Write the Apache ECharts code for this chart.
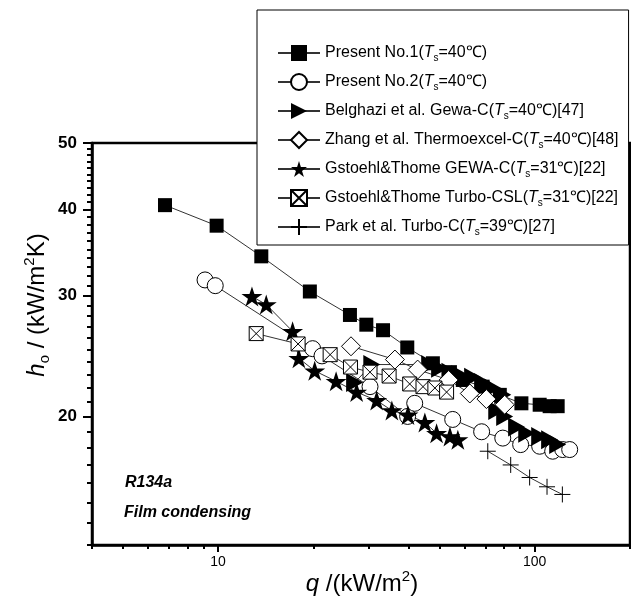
<!DOCTYPE html>
<html>
<head>
<meta charset="utf-8">
<script src="https://cdn.jsdelivr.net/npm/echarts@6.0.0/dist/echarts.min.js"></script>
<style>
  html, body { margin: 0; padding: 0; background: #fff; }
  #chart { width: 631px; height: 603px; }
</style>
</head>
<body>
<div id="chart"></div>
<script>
// q (kW/m2), ho (kW/m2K)
var presentNo1 = [[6.8, 40.6], [9.9, 37.9], [13.7, 34.2], [19.5, 30.4], [26.1, 28.1], [29.4, 27.2], [33.2, 26.7], [39.6, 25.2], [47.7, 23.9], [54, 23.2], [59.3, 22.6], [68.5, 22.1], [77.6, 21.5], [90.8, 20.9], [103.7, 20.8], [111.5, 20.7], [118.2, 20.7]]
var presentNo2 = [[9.1, 31.6], [9.8, 31.0], [19.9, 25.1], [21.3, 24.5], [30.2, 22.1], [39.7, 20.0], [41.8, 20.9], [55.1, 19.8], [68.0, 19.0], [79.3, 18.6], [90.3, 18.2], [103.7, 18.1], [114, 17.8], [122.6, 17.9], [129, 17.9]]
var belghazi = [[27.0, 22.4], [30.6, 23.8], [46.6, 23.8], [50.1, 23.5], [54.0, 23.2], [58.0, 23.0], [63.7, 22.8], [68.5, 22.4], [73.7, 22.0], [79.3, 21.5], [75.9, 20.4], [80.4, 20.0], [87.7, 19.3], [94.4, 18.9], [103.7, 18.7], [111.5, 18.5], [118.2, 18.2]]
var zhang = [[26.3, 25.3], [36.2, 24.2], [42.7, 23.4], [53.5, 22.6], [62.4, 21.6], [70.4, 21.2], [80.4, 20.8]]
var gstoehlGewa = [[12.8, 29.9], [14.2, 29.1], [17.2, 26.6], [18.0, 24.3], [20.2, 23.3], [23.6, 22.5], [27.4, 21.7], [31.7, 21.1], [35.4, 20.4], [39.8, 20.1], [45.0, 19.6], [49.0, 18.9], [54.0, 18.7], [57.2, 18.5]]
var gstoehlTurbo = [[13.2, 26.4], [17.9, 25.5], [22.6, 24.6], [26.2, 23.6], [30.2, 23.2], [34.7, 22.9], [40.3, 22.3], [44.4, 22.1], [48.4, 22.0], [52.7, 21.7]]
var park = [[71.1, 17.8], [84.0, 17.0], [96.4, 16.3], [109.4, 15.8], [122.3, 15.4]]

var seriesNames = ['Present No.1', 'Present No.2', 'Belghazi et al. Gewa-C', 'Zhang et al. Thermoexcel-C', 'Gstoehl&Thome GEWA-C', 'Gstoehl&Thome Turbo-CSL', 'Park et al. Turbo-C']
var seriesTemps = ['40', '40', '40', '40', '31', '31', '39']
var seriesRefs = ['', '', '[47]', '[48]', '[22]', '[22]', '[27]']

var qMajorTicks = [10, 100]
var qMinorTicks = [4, 5, 6, 7, 8, 9, 20, 30, 40, 50, 60, 70, 80, 90, 200]
var hMajorTicks = [20, 30, 40, 50]
var hMinorTicks = [13, 14, 15, 16, 17, 18, 19, 21, 22, 23, 24, 25, 26, 27, 28, 29, 31, 32, 33, 34, 35, 36, 37, 38, 39, 41, 42, 43, 44, 45, 46, 47, 48, 49]

var FONT = '"Liberation Sans", Arial, sans-serif'

// marker shapes
var TRI_RIGHT = 'path://M0,0L10,5L0,10Z'
var STAR = 'path://M50,0L61.2,34.6L97.6,34.5L68.1,55.9L79.4,90.5L50,69L20.6,90.5L31.9,55.9L2.4,34.5L38.8,34.6Z'
var BOX_X = 'path://M0,0L10,0L10,10L0,10Z M0,0L10,10 M10,0L0,10'
var PLUS = 'path://M5,0L5,10 M0,5L10,5'

function lineSeries(idx, data, symbol, size, fill, border) {
  return {
    name: seriesNames[idx],
    type: 'line',
    xAxisIndex: 0,
    yAxisIndex: 0,
    data: data,
    symbol: symbol,
    symbolSize: size,
    lineStyle: { color: '#333', width: 1 },
    itemStyle: { color: fill, borderColor: '#000', borderWidth: border },
    emphasis: { disabled: true },
    z: 3
  }
}

var chart = echarts.init(document.getElementById('chart'))

var titleRich = {
  i: { fontStyle: 'italic', fontSize: 24, fontFamily: FONT, lineHeight: 30, fill: '#000' },
  n: { fontSize: 24, fontFamily: FONT, lineHeight: 30, fill: '#000' },
  sub: { fontSize: 15, fontFamily: FONT, lineHeight: 14, verticalAlign: 'bottom', fill: '#000' },
  sup: { fontSize: 15, fontFamily: FONT, lineHeight: 14, verticalAlign: 'top', fill: '#000' }
}

var option = {
  animation: false,
  backgroundColor: '#fff',
  grid: {
    left: 92,
    right: 1,
    top: 143,
    bottom: 58,
    show: true,
    borderColor: '#000',
    borderWidth: 2.5
  },
  legend: {
    orient: 'vertical',
    left: 257,
    top: 10,
    padding: [33, 10, 8, 20],
    itemWidth: 42,
    itemHeight: 20,
    itemGap: 9,
    backgroundColor: '#fff',
    borderColor: '#000',
    borderWidth: 1,
    borderRadius: 0,
    selectedMode: false,
    z: 10,
    data: seriesNames,
    formatter: function (name) {
      var i = seriesNames.indexOf(name)
      return name + '({it|T}{sub|s}=' + seriesTemps[i] + '℃)' + seriesRefs[i]
    },
    textStyle: {
      fontFamily: FONT,
      fontSize: 16,
      color: '#000',
      lineHeight: 20,
      rich: {
        it: { fontStyle: 'italic', fontSize: 16, fontFamily: FONT, color: '#000', lineHeight: 20 },
        sub: { fontSize: 10, fontFamily: FONT, color: '#000', lineHeight: 10, verticalAlign: 'bottom' }
      }
    }
  },
  xAxis: [{
    type: 'log',
    logBase: 10,
    min: 4,
    max: 200,
    position: 'bottom',
    axisLine: { lineStyle: { color: '#000', width: 2.5 } },
    axisTick: { customValues: qMajorTicks, length: 7, lineStyle: { color: '#000', width: 2 } },
    axisLabel: { customValues: qMajorTicks, margin: 10, fontSize: 14, color: '#000', fontFamily: FONT },
    splitLine: { show: false },
    minorTick: { show: false }
  }, {
    type: 'log',
    logBase: 10,
    min: 4,
    max: 200,
    position: 'bottom',
    axisLine: { show: false },
    axisTick: { customValues: qMinorTicks, length: 4, lineStyle: { color: '#000', width: 2 } },
    axisLabel: { show: false },
    splitLine: { show: false }
  }],
  yAxis: [{
    type: 'log',
    logBase: 10,
    min: 13,
    max: 50,
    position: 'left',
    axisLine: { lineStyle: { color: '#000', width: 2.5 } },
    axisTick: { customValues: hMajorTicks, length: 9, lineStyle: { color: '#000', width: 2 } },
    axisLabel: { customValues: hMajorTicks, margin: 15, fontSize: 17, fontWeight: 'bold', color: '#000', fontFamily: FONT },
    splitLine: { show: false },
    minorTick: { show: false }
  }, {
    type: 'log',
    logBase: 10,
    min: 13,
    max: 50,
    position: 'left',
    axisLine: { show: false },
    axisTick: { customValues: hMinorTicks, length: 5, lineStyle: { color: '#000', width: 2 } },
    axisLabel: { show: false },
    splitLine: { show: false }
  }],
  graphic: [{
    type: 'text',
    x: 37,
    y: 305,
    rotation: Math.PI / 2,
    style: {
      text: '{i|h}{sub|o}{n| / (kW/m}{sup|2}{n|K)}',
      rich: titleRich,
      align: 'center',
      verticalAlign: 'middle'
    }
  }, {
    type: 'text',
    x: 362,
    y: 584,
    style: {
      text: '{i|q}{n| /(kW/m}{sup|2}{n|)}',
      rich: titleRich,
      align: 'center',
      verticalAlign: 'middle'
    }
  }, {
    type: 'text',
    x: 125,
    y: 483,
    style: {
      text: 'R134a',
      font: 'italic bold 16px ' + FONT,
      fill: '#000',
      verticalAlign: 'middle'
    }
  }, {
    type: 'text',
    x: 124,
    y: 513,
    style: {
      text: 'Film condensing',
      font: 'italic bold 16px ' + FONT,
      fill: '#000',
      verticalAlign: 'middle'
    }
  }],
  series: [
    lineSeries(0, presentNo1, 'rect', 14, '#000', 0),
    lineSeries(1, presentNo2, 'circle', 16, '#fff', 1),
    lineSeries(2, belghazi, TRI_RIGHT, [17, 19], '#000', 0),
    lineSeries(3, zhang, 'diamond', 19, '#fff', 1),
    lineSeries(4, gstoehlGewa, STAR, [21, 20], '#000', 0),
    lineSeries(5, gstoehlTurbo, BOX_X, 14, '#fff', 1),
    lineSeries(6, park, PLUS, 16, '#000', 1)
  ]
}

chart.setOption(option)
</script>
</body>
</html>
